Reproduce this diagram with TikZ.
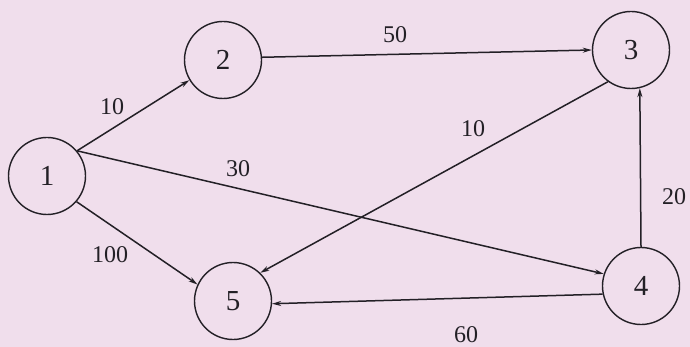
\documentclass[tikz,border=0pt]{standalone}
\usepackage{fontspec}
\setmainfont{Liberation Serif}
\usetikzlibrary{arrows.meta}
\definecolor{bgpink}{RGB}{240,222,236}
\definecolor{ink}{RGB}{35,32,38}
\begin{document}
\begin{tikzpicture}[x=1pt,y=-1pt,
  vert/.style={circle,draw=ink,line width=1.4pt,minimum size=77pt,inner sep=0pt,
    font=\fontsize{29}{31}\selectfont,text=ink},
  edge/.style={draw=ink,line width=1.5pt,-{Stealth[length=9pt,width=5pt]}},
  wt/.style={font=\fontsize{24}{26}\selectfont,text=ink,inner sep=0pt}]
\fill[bgpink] (0,0) rectangle (690,347);
\useasboundingbox (0,0) rectangle (690,347);
\node[vert] (n1) at (47,176) {1};
\node[vert] (n2) at (223,60) {2};
\node[vert] (n3) at (631,50) {3};
\node[vert] (n4) at (641,286) {4};
\node[vert] (n5) at (233,301) {5};
\draw[edge] (n1.40) -- (n2.211);
\draw[edge] (n1.40) -- (n4.162);
\draw[edge] (n1.319) -- (n5.155);
\draw[edge] (n2.4) -- (n3.180);
\draw[edge] (n3.234) -- (n5.46);
\draw[edge] (n4.90) -- (n3.283);
\draw[edge] (n4.192) -- (n5.356);
\node[wt] (w12) at (112,107) {10};
\node[wt] (w14) at (238,169) {30};
\node[wt] (w15) at (110,255) {100};
\node[wt] (w23) at (395,35) {50};
\node[wt] (w35) at (473,129) {10};
\node[wt,anchor=west] (w43) at (662,197) {20};
\node[wt] (w45) at (466,335) {60};
\end{tikzpicture}
\end{document}
